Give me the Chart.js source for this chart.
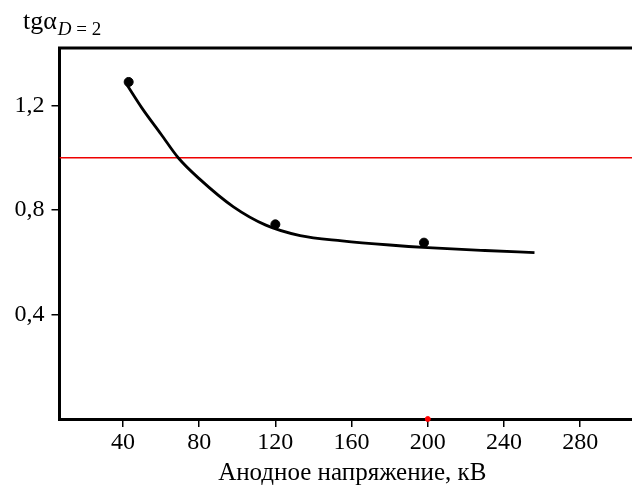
<!DOCTYPE html>
<html>
<head>
<meta charset="utf-8">
<script src="https://cdn.jsdelivr.net/npm/chart.js@4"></script>
<style>
  html, body { margin: 0; padding: 0; background: #fff; overflow: hidden; }
  canvas { display: block; }
</style>
</head>
<body>
<canvas id="chart" width="660" height="486"></canvas>
<script>
// measured points
const pointX = [43, 120, 198];
const pointY = [1.29, 0.745, 0.675];

// fitted curve
const curveX = [42, 50, 60, 69, 80, 98, 115, 133, 155, 180, 200, 230, 256];
const curveY = [1.28, 1.19, 1.09, 1.0, 0.92, 0.812, 0.742, 0.702, 0.682, 0.666, 0.656, 0.645, 0.637];

// red reference level and the red mark on the axis
const refLevel = 1.0;
const markX = [200];
const markY = [0];

const xTicks = [40, 80, 120, 160, 200, 240, 280];
const yTicks = [0.4, 0.8, 1.2];
const xRange = [6.7, 314];
const yRange = [0, 1.42];

const xTitle = 'Анодное напряжение, кВ';

const serif = '"Liberation Serif", "Times New Roman", serif';

const toPts = (xs, ys) => xs.map((x, i) => ({ x, y: ys[i] }));

// frame top + y-axis title
const extras = {
    id: 'extras',
    afterDraw(chart) {
        const { ctx, chartArea } = chart;
        ctx.save();
        ctx.strokeStyle = '#000';
        ctx.lineWidth = 3;
        ctx.beginPath();
        ctx.moveTo(chartArea.left - 1.5, chartArea.top);
        ctx.lineTo(chart.width, chartArea.top);
        ctx.stroke();

        ctx.fillStyle = '#000';
        ctx.textBaseline = 'alphabetic';
        ctx.textAlign = 'left';
        ctx.font = '26px ' + serif;
        ctx.fillText('tgα', 23, 29);
        const w = ctx.measureText('tgα').width;
        ctx.font = 'italic 19px ' + serif;
        ctx.fillText('D', 23 + w + 1, 35);
        const wd = ctx.measureText('D').width;
        ctx.font = '19px ' + serif;
        ctx.fillText(' = 2', 23 + w + 1 + wd, 35);
        ctx.restore();
    }
};

new Chart(document.getElementById('chart'), {
    type: 'scatter',
    data: {
        datasets: [
            {
                data: toPts(curveX, curveY),
                showLine: true,
                borderColor: '#000',
                borderWidth: 2.8,
                pointRadius: 0,
                cubicInterpolationMode: 'monotone'
            },
            {
                data: toPts(pointX, pointY),
                backgroundColor: '#000',
                borderColor: '#000',
                pointRadius: 4.5
            },
            {
                data: toPts(markX, markY),
                backgroundColor: '#ff0000',
                borderColor: '#ff0000',
                pointRadius: 2.5,
                clip: false
            },
            {
                data: toPts(xRange, [refLevel, refLevel]),
                showLine: true,
                borderColor: '#ee0000',
                borderWidth: 1.5,
                pointRadius: 0
            }
        ]
    },
    options: {
        responsive: false,
        animation: false,
        events: [],
        layout: { padding: { top: 48, right: 15, left: 0, bottom: 0 } },
        plugins: {
            legend: { display: false },
            tooltip: { enabled: false }
        },
        scales: {
            x: {
                type: 'linear',
                min: xRange[0],
                max: xRange[1],
                afterBuildTicks: (axis) => { axis.ticks = xTicks.map(v => ({ value: v })); },
                afterFit: (axis) => { axis.height = 67; },
                grid: { display: true, drawOnChartArea: false, drawTicks: true, tickLength: 8, color: '#000', lineWidth: 1.5 },
                border: { display: true, color: '#000', width: 3 },
                ticks: { color: '#000', padding: 1, maxRotation: 0, font: { family: serif, size: 24 } },
                title: { display: true, text: xTitle, color: '#000', padding: { top: 0, bottom: -2 }, font: { family: serif, size: 25 } }
            },
            y: {
                type: 'linear',
                min: yRange[0],
                max: yRange[1],
                afterBuildTicks: (axis) => { axis.ticks = yTicks.map(v => ({ value: v })); },
                afterFit: (axis) => { axis.width = 59.5; },
                grid: { display: true, drawOnChartArea: false, drawTicks: true, tickLength: 8, color: '#000', lineWidth: 1.5 },
                border: { display: true, color: '#000', width: 3 },
                ticks: {
                    color: '#000',
                    padding: 7,
                    font: { family: serif, size: 24 },
                    callback: (v) => v.toFixed(1).replace('.', ',')
                }
            }
        }
    },
    plugins: [extras]
});
</script>
</body>
</html>
